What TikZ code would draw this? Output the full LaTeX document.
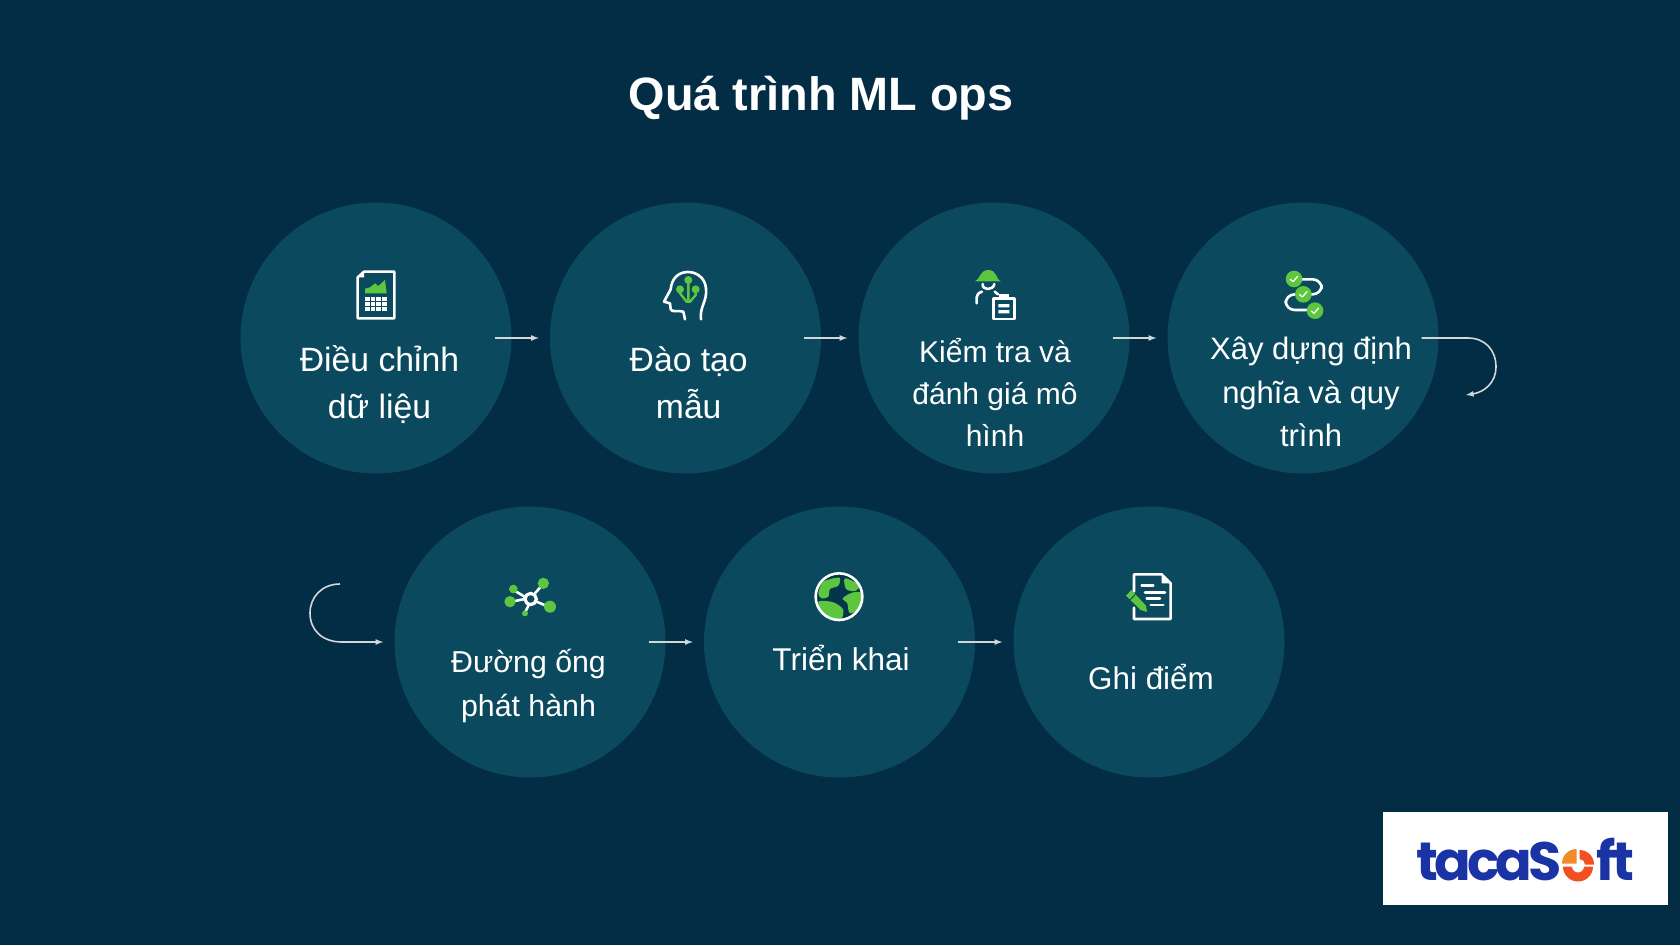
\documentclass[tikz,border=0pt]{standalone}
\usepackage{fontspec}
\setmainfont{Liberation Sans}
\newfontfamily\logofont[LetterSpace=-7]{Poppins}
\definecolor{bgc}{HTML}{032C45}
\definecolor{discc}{HTML}{0B4A5E}
\definecolor{leafc}{HTML}{5CC63F}
\definecolor{arrowc}{HTML}{D3D7DA}
\definecolor{logoblue}{HTML}{1A33A5}
\definecolor{logored}{HTML}{F44E23}
\definecolor{logoorange}{HTML}{F08A2C}
\tikzset{
	disc/.style={circle,fill=discc,minimum size=271pt,inner sep=0pt},
	flow/.style={-latex,draw=arrowc,line width=1.6pt},
	lbl/.style 2 args={align=center,text=white,inner sep=0pt,anchor=base,font=\fontsize{#1}{#2}\selectfont},
	icon/.style={shift={#1},scale=1/3},
	wline/.style={draw=white,line width=2.6pt,line join=round,line cap=round},
	tick/.style={draw=white,line width=1.3pt,line cap=round,line join=round},
}
\begin{document}
\begin{tikzpicture}[x=1pt,y=-1pt]
	\fill[bgc] (0,0) rectangle (1680,945);
	\node[font=\fontsize{46.8}{50}\selectfont\bfseries,text=white,inner sep=0pt] (title) at (821,98) {Quá trình ML ops};
	% circles
	\foreach[count=\i] \x in {376,685.5,994,1303}
		\node[disc] (c\i) at (\x,338) {};
	\foreach[count=\i from 5] \x in {530,839.5,1149}
		\node[disc] (c\i) at (\x,642) {};
	% arrows
	\foreach \i/\j in {1/2,2/3,3/4,5/6,6/7}
		\draw[flow] ([xshift=-17pt]c\i.east)--([xshift=-11pt]c\j.west);
	\coordinate (bendr) at (1466,395);
	\coordinate (bendl) at (340,584);
	\draw[flow] ([xshift=-17pt]c4.east)--(1468,338) .. controls (1485,338) and (1496,350) .. (1496,367) .. controls (1496,382) and (1485,392) .. (bendr);
	\draw[flow] (bendl) .. controls (322,584) and (310,597) .. (310,613) .. controls (310,630) and (322,642) .. (342,642)--([xshift=-11pt]c5.west);
	% labels
	\node[lbl={33.7}{47}] (t1) at (379.5,418) {Điều chỉnh\\dữ liệu};
	\node[lbl={33.7}{47}] (t2) at (688.7,418) {Đào tạo\\mẫu};
	\node[lbl={30}{42}] (t3) at (995,446.7) {Kiểm tra và\\đánh giá mô\\hình};
	\node[lbl={31}{43.5}] (t4) at (1311,446.7) {Xây dựng định\\nghĩa và quy\\trình};
	\node[lbl={30.3}{44.5}] (t5) at (528.5,716.7) {Đường ống\\phát hành};
	\node[lbl={31.5}{44}] (t6) at (841,670) {Triển khai};
	\node[lbl={31.4}{44}] (t7) at (1151,689) {Ghi điểm};
	% sheet icon
	\begin{scope}[icon={(340,260)}]
		\draw[wline] (72,35)--(163,35)--(163,175)--(53,175)--(53,52)--cycle;
		\fill[white] (72,35)--(55,52)--(72,52)--cycle;
		\fill[leafc] (75,100)--(75,86)--(90,82)--(105,70)--(115,78)--(135,60)--(140,100)--cycle;
		\foreach \x in {0,1,2,3}
			\foreach \y in {0,1,2}
				\fill[white] (75+\x*17,112+\y*15) rectangle +(14,12);
	\end{scope}
	% head icon
	\begin{scope}[icon={(650,260)}]
		\draw[wline] (153,178) .. controls (148,140) and (172,125) .. (168,85) .. controls (165,50) and (135,35) .. (112,36) .. controls (85,37) and (65,55) .. (62,88)--(42,125)--(60,130)--(62,148) .. controls (65,158) and (85,150) .. (100,155)--(105,178);
		\draw[draw=leafc,line width=2.4pt] (115,60)--(115,125) (90,88)--(90,100)--(110,125)--(120,125)--(137,105)--(137,88);
		\fill[leafc] (115,60) circle (12) (90,88) circle (12) (137,88) circle (12);
	\end{scope}
	% inspector icon
	\begin{scope}[icon={(960,260)}]
		\draw[wline] (50,130)--(50,112) .. controls (50,104) and (56,98) .. (66,95);
		\draw[wline] (68,72) .. controls (66,92) and (100,92) .. (103,72);
		\draw[wline] (104,95)--(114,103);
		\fill[leafc] (45,64) .. controls (60,60) and (58,30) .. (85,30) .. controls (112,30) and (108,60) .. (122,64)--cycle;
		\draw[wline] (100,115) rectangle (163,177);
		\fill[white] (118,103) rectangle (146,120);
		\fill[white] (115,132) rectangle (148,142) (115,150) rectangle (148,160);
	\end{scope}
	% checklist icon
	\begin{scope}[icon={(1265,260)}]
		\draw[wline,rounded corners=9pt] (85,58)--(170,58)--(170,103)--(62,103)--(62,150)--(150,150);
		\foreach \x/\y in {87/57,115/103,150/152}{
			\fill[leafc] (\x,\y) circle (25);
			\draw[tick] (\x-11,\y+1)--(\x-3,\y+8)--(\x+11,\y-8);
		}
	\end{scope}
	% network icon
	\begin{scope}[icon={(490,565)}]
		\draw[wline,line width=3.2pt] (122,102) circle (17);
		\draw[wline] (135,85)--(155,62) (104,95)--(72,76) (104,102)--(65,110) (140,110)--(175,125) (115,122)--(105,143);
		\fill[leafc] (160,55) circle (17) (70,72) circle (13) (60,110) circle (17) (180,125) circle (18) (105,145) circle (9);
	\end{scope}
	% globe icon
	\begin{scope}[icon={(800,565)}]
		\fill[bgc!70!discc] (117,95) circle (68);
		\begin{scope}
			\clip (117,95) circle (68);
			\fill[leafc] plot[smooth cycle] coordinates {(55,85) (70,50) (118,38) (115,62) (90,72) (85,95) (65,100)};
			\fill[leafc] plot[smooth cycle] coordinates {(55,110) (100,112) (130,135) (118,170) (75,155)};
			\fill[leafc] plot[smooth cycle] coordinates {(135,40) (178,60) (165,78) (138,72)};
			\fill[leafc] plot[smooth cycle] coordinates {(128,100) (160,82) (195,85) (190,125) (150,145) (142,115)};
		\end{scope}
		\draw[wline] (117,95) circle (70);
	\end{scope}
	% score icon
	\begin{scope}[icon={(1110,565)}]
		\draw[wline] (72,80)--(72,28)--(155,28)--(182,55)--(182,162)--(72,162)--(72,128);
		\fill[white] (155,30)--(155,55)--(180,55)--cycle;
		\draw[wline] (95,62)--(130,62) (105,82)--(165,82) (110,100)--(150,100) (122,120)--(160,120);
		\fill[leafc] (48,92)--(64,75)--(108,122)--(111,141)--(92,135)--cycle;
		\draw[discc,line width=1pt] (60,105)--(76,88);
	\end{scope}
	% logo
	\node[fill=white,minimum width=284.7pt,minimum height=93.3pt,inner sep=0pt] (logobox) at (1525.3,858.6) {};
	\node[font=\fontsize{54}{54}\selectfont\logofont\bfseries,text=logoblue,inner sep=0pt,anchor=base] (logotext) at (1525,880) {tacaS{\color{white}o}ft};
	\fill[logored] (1593,866.5) arc (0:180:15)--++(9,0) arc (180:0:6)--cycle;
	\fill[logored] (1579.5,850) arc (-90:0:14.5)--++(-9,0) arc (0:-90:5.5)--cycle;
	\fill[logoorange] (1576.5,863.5)--(1562,863.5) arc (180:270:14.5)--cycle;
\end{tikzpicture}
\end{document}
